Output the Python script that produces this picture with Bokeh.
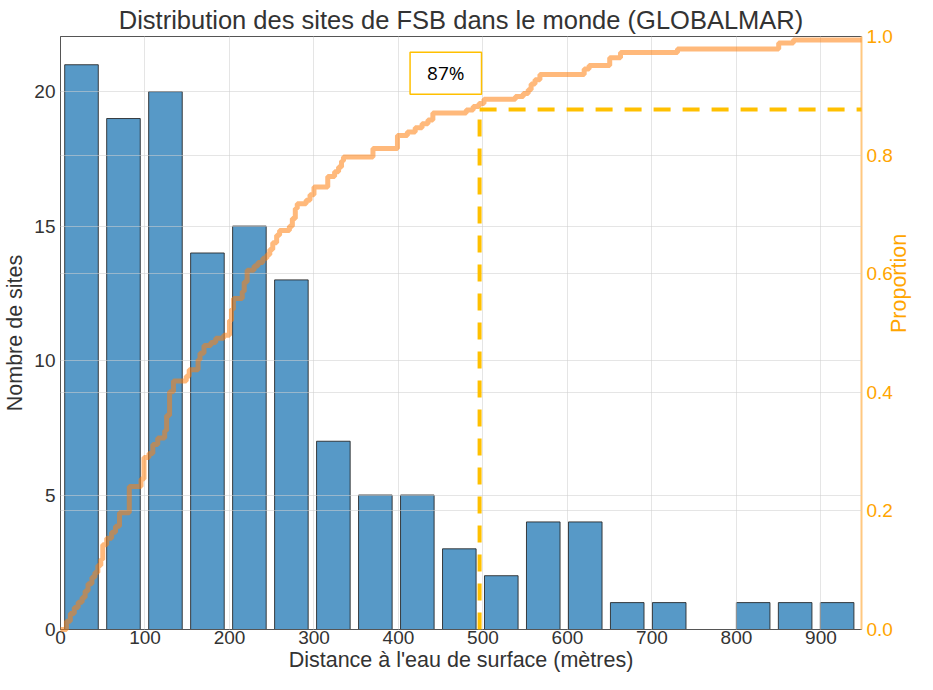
import math
import numpy as np
from bokeh.plotting import figure
from bokeh.models import Range1d, LinearAxis, Grid, FixedTicker, Label, NumeralTickFormatter
from bokeh.embed import file_html
from bokeh.resources import INLINE

# ---------------- data ----------------
counts = [21, 19, 20, 14, 15, 13, 7, 5, 5, 3, 2, 4, 4, 1, 1, 0, 1, 1, 1]
distance_min = 0
distance_max = 944

ecdf_distance = [0, 7.0, 11.6, 16.3, 20.9, 25.6, 29.1, 32.6, 37.2, 40.7, 44.2, 47.7, 50.0, 54.7,
                 60.5, 65.1, 69.8, 81.4, 95.3, 98.8, 104.7, 109.3, 115.1, 123.3, 125.6, 129.1,
                 133.7, 148.8, 152.3, 162.8, 165.1, 169.8, 177.9, 183.7, 193.0, 200.0, 202.3,
                 204.7, 215.1, 217.4, 220.9, 229.1, 233.7, 239.5, 244.2, 247.7, 251.2, 255.8,
                 259.3, 270.9, 274.4, 277.9, 280.2, 290.7, 295.3, 300.0, 316.3, 324.4, 329.1,
                 332.6, 334.9, 369.8, 398.8, 410.5, 419.8, 427.9, 434.9, 440.7, 480.2, 488.4,
                 495.3, 501.2, 538.4, 547.7, 553.5, 557.0, 561.6, 567.4, 619.8, 625.6, 650.0,
                 662.8, 730.2, 850.0, 867.4, 948]
ecdf_proportion = [0.0, 0.014, 0.027, 0.037, 0.046, 0.054, 0.065, 0.077, 0.088, 0.096, 0.108,
                   0.118, 0.143, 0.154, 0.164, 0.174, 0.197, 0.241, 0.254, 0.290, 0.297, 0.312,
                   0.323, 0.335, 0.361, 0.401, 0.419, 0.427, 0.438, 0.455, 0.466, 0.479, 0.484,
                   0.491, 0.496, 0.521, 0.540, 0.558, 0.570, 0.586, 0.606, 0.613, 0.619, 0.626,
                   0.632, 0.641, 0.652, 0.665, 0.673, 0.680, 0.693, 0.710, 0.718, 0.724, 0.733,
                   0.746, 0.764, 0.772, 0.780, 0.790, 0.797, 0.811, 0.833, 0.839, 0.846, 0.853,
                   0.859, 0.871, 0.876, 0.882, 0.887, 0.894, 0.899, 0.904, 0.910, 0.920, 0.927,
                   0.936, 0.945, 0.951, 0.964, 0.973, 0.979, 0.989, 0.994, 0.994]

threshold_distance = 496
threshold_proportion = 0.877
threshold_label = "87%"

x_ticks = [0, 100, 200, 300, 400, 500, 600, 700, 800, 900]
count_ticks = [0, 5, 10, 15, 20]
prop_ticks = [0.0, 0.2, 0.4, 0.6, 0.8, 1.0]

title_text = "Distribution des sites de FSB dans le monde (GLOBALMAR)"
x_label = "Distance à l'eau de surface (mètres)"
y_label = "Nombre de sites"
y2_label = "Proportion"

# ---------------- styling ----------------
FONT = "Liberation Sans"
DARK = "#333333"
ORANGE = "#FFA500"
GOLD = "#FFC000"
X_MAX = 948

edges = np.linspace(distance_min, distance_max, len(counts) + 1)
bw = edges[1:] - edges[:-1]
bar_left = edges[:-1] + 0.1 * bw
bar_right = edges[1:] - 0.1 * bw

p = figure(width=925, height=674, x_range=Range1d(0, X_MAX), y_range=Range1d(0, 22.05),
           output_backend="svg", toolbar_location=None,
           min_border_left=55, min_border_right=40, min_border_top=0, min_border_bottom=0)
p.extra_y_ranges = {"prop": Range1d(0, 1.0)}

p.title.text = title_text
p.title.align = "center"
p.title.text_font = FONT
p.title.text_font_size = "25.5px"
p.title.text_font_style = "normal"
p.title.text_color = DARK
p.title.standoff = 6
p.title.offset = 0

p.outline_line_color = "#555555"
p.outline_line_width = 1

# axes
for ax, ticks in ((p.xaxis[0], x_ticks), (p.yaxis[0], count_ticks)):
    ax.ticker = FixedTicker(ticks=ticks)
    ax.major_label_text_font = FONT
    ax.major_label_text_font_size = "19px"
    ax.major_label_text_color = DARK
    ax.axis_label_text_font = FONT
    ax.axis_label_text_font_size = "21.5px"
    ax.axis_label_text_font_style = "normal"
    ax.axis_label_text_color = DARK
    ax.major_tick_line_color = None
    ax.minor_tick_line_color = None
    ax.major_tick_out = 0
    ax.major_tick_in = 0
    ax.minor_tick_out = 0
    ax.minor_tick_in = 0
    ax.axis_line_color = "#555555"
    ax.major_label_standoff = 5
    ax.axis_label_standoff = 4
p.xaxis[0].axis_label = x_label
p.yaxis[0].axis_label = y_label
p.xaxis[0].major_label_standoff = 1
p.xaxis[0].axis_label_standoff = 1

ax2 = LinearAxis(y_range_name="prop", ticker=FixedTicker(ticks=prop_ticks),
                 formatter=NumeralTickFormatter(format="0.0"), axis_label=y2_label)
ax2.major_label_text_font = FONT
ax2.major_label_text_font_size = "19px"
ax2.major_label_text_color = ORANGE
ax2.axis_label_text_font = FONT
ax2.axis_label_text_font_size = "21.5px"
ax2.axis_label_text_font_style = "normal"
ax2.axis_label_text_color = ORANGE
ax2.axis_label_orientation = math.pi / 2
ax2.major_tick_line_color = None
ax2.minor_tick_line_color = None
ax2.major_tick_out = 0
ax2.major_tick_in = 0
ax2.minor_tick_out = 0
ax2.minor_tick_in = 0
ax2.axis_line_color = "#FFC880"
ax2.axis_line_width = 2
ax2.major_label_standoff = 5
ax2.axis_label_standoff = 3
p.add_layout(ax2, "right")

# grids
p.xgrid.ticker = FixedTicker(ticks=x_ticks)
p.ygrid.ticker = FixedTicker(ticks=count_ticks)
for g in (p.xgrid[0], p.ygrid[0]):
    g.grid_line_color = "#cfcfcf"
    g.grid_line_alpha = 0.55
    g.level = "annotation"
g2 = Grid(dimension=1, ticker=FixedTicker(ticks=prop_ticks), y_range_name="prop",
          grid_line_color="#cfcfcf", grid_line_alpha=0.55, level="annotation")
p.add_layout(g2)

# histogram
p.quad(left=bar_left, right=bar_right, bottom=0, top=counts,
       fill_color="#1f77b4", fill_alpha=0.75, line_color="#222222", line_alpha=0.85, line_width=1)

# ECDF
r = p.step(x=ecdf_distance, y=ecdf_proportion, mode="after", y_range_name="prop",
           line_color="#ff7f0e", line_alpha=0.55, line_width=5)
r.level = "overlay"

# threshold lines
v = p.line(x=[threshold_distance, threshold_distance], y=[0, threshold_proportion],
           y_range_name="prop", line_color=GOLD, line_width=4, line_dash="17 12")
h = p.line(x=[threshold_distance, X_MAX], y=[threshold_proportion, threshold_proportion],
           y_range_name="prop", line_color=GOLD, line_width=4, line_dash="17 12")
v.level = "overlay"
h.level = "overlay"

lab = Label(x=456, y=0.938, y_range_name="prop", text=threshold_label,
            text_align="center", text_baseline="middle", text_font="Open Sans",
            text_font_size="19px", text_color="black",
            background_fill_color="white", border_line_color=GOLD, border_line_width=1.5,
            padding=dict(left=17, right=17, top=8, bottom=8), level="overlay")
p.add_layout(lab)

open("out.html", "w").write(file_html(p, INLINE))
